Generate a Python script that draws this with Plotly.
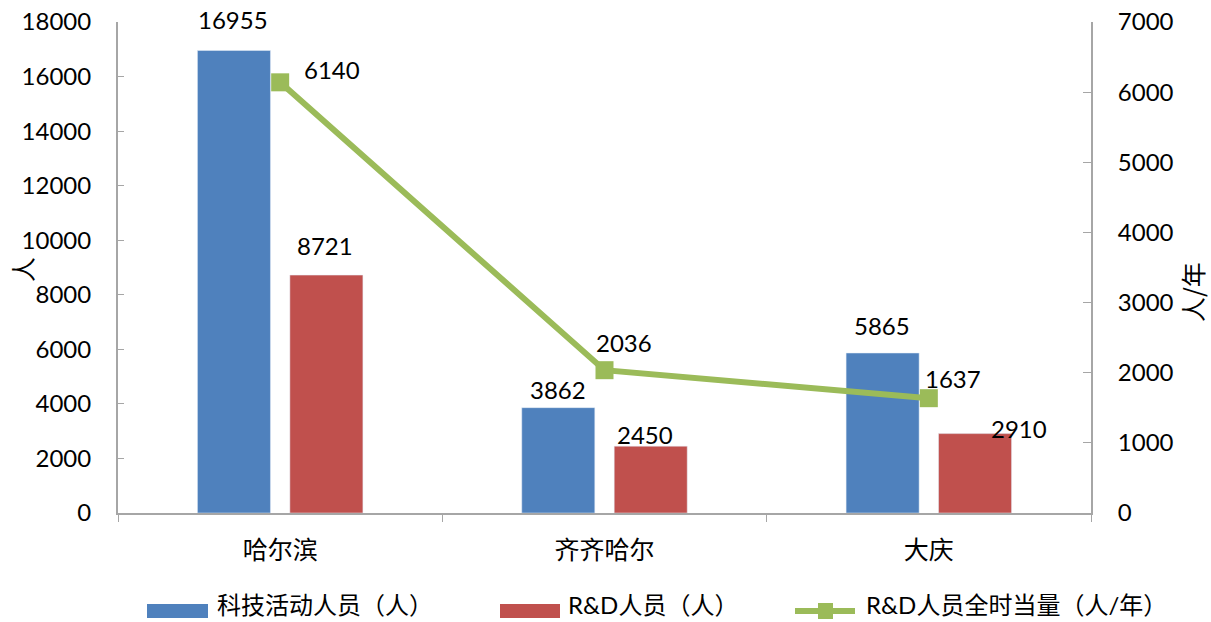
import plotly.graph_objects as go

# ---- data ----
cities = ["哈尔滨", "齐齐哈尔", "大庆"]
sci_staff = [16955, 3862, 5865]          # 科技活动人员（人）
rd_staff = [8721, 2450, 2910]            # R&D人员（人）
rd_fte = [6140, 2036, 1637]              # R&D人员全时当量（人/年）

name_sci = "科技活动人员（人）"
name_rd = "R&D人员（人）"
name_fte = "R&D人员全时当量（人/年）"

BLUE = "#4f81bd"
RED = "#c0504d"
GREEN = "#9bbb59"
AXIS = "#a6a6a6"
FONT = "Lato, Noto Sans CJK SC, sans-serif"
CJK = "Noto Sans CJK SC, sans-serif"

W, H = 1211, 622
L, R, T, B = 118, 120, 22, 109
PW, PH = W - L - R, H - T - B


def px_x(p):
    return (p - L) / PW


def px_y(p):
    return (H - B - p) / PH


fig = go.Figure()
fig.add_trace(go.Bar(x=cities, y=sci_staff, name=name_sci, marker_color=BLUE,
                     showlegend=False, offsetgroup="a"))
fig.add_trace(go.Bar(x=cities, y=rd_staff, name=name_rd, marker_color=RED,
                     showlegend=False, offsetgroup="b"))
fig.add_trace(go.Scatter(x=cities, y=rd_fte, name=name_fte, yaxis="y2",
                         mode="lines+markers",
                         line=dict(color=GREEN, width=6),
                         marker=dict(symbol="square", size=18, color=GREEN),
                         showlegend=False))

# value labels (pixel offsets from each mark)
sci_shift = [(-47, 31), (-47, 18), (-47, 28)]
rd_shift = [(45, 30), (40, 12), (90, 5)]
fte_shift = [(52, 13), (19, 28), (24, 20)]

NUM = dict(size=24, color="black", family=FONT)
ann = []
for c, v, (dx, dy) in zip(cities, sci_staff, sci_shift):
    ann.append(dict(x=c, y=v, xref="x", yref="y", text=str(v), showarrow=False,
                    xanchor="center", yanchor="middle", xshift=dx, yshift=dy, font=NUM))
for c, v, (dx, dy) in zip(cities, rd_staff, rd_shift):
    ann.append(dict(x=c, y=v, xref="x", yref="y", text=str(v), showarrow=False,
                    xanchor="center", yanchor="middle", xshift=dx, yshift=dy, font=NUM))
for c, v, (dx, dy) in zip(cities, rd_fte, fte_shift):
    ann.append(dict(x=c, y=v, xref="x", yref="y2", text=str(v), showarrow=False,
                    xanchor="center", yanchor="middle", xshift=dx, yshift=dy, font=NUM))

# axis titles
ann.append(dict(x=px_x(22), y=px_y(270), xref="paper", yref="paper", text="人",
                xanchor="center", yanchor="middle",
                textangle=-90, showarrow=False, font=dict(size=25, family=CJK, color="black")))
ann.append(dict(x=px_x(1192), y=px_y(292), xref="paper", yref="paper", text="人/年",
                xanchor="center", yanchor="middle",
                textangle=-90, showarrow=False, font=dict(size=25, family=CJK, color="black")))

# legend
shapes = []
ly = 611
shapes.append(dict(type="rect", xref="paper", yref="paper",
                   x0=px_x(147), x1=px_x(208), y0=px_y(618), y1=px_y(604),
                   fillcolor=BLUE, line=dict(width=0)))
shapes.append(dict(type="rect", xref="paper", yref="paper",
                   x0=px_x(500), x1=px_x(560), y0=px_y(618), y1=px_y(604),
                   fillcolor=RED, line=dict(width=0)))
shapes.append(dict(type="line", xref="paper", yref="paper",
                   x0=px_x(795), x1=px_x(855), y0=px_y(ly), y1=px_y(ly),
                   line=dict(color=GREEN, width=6)))
shapes.append(dict(type="rect", xref="paper", yref="paper",
                   x0=px_x(818), x1=px_x(833), y0=px_y(ly + 8), y1=px_y(ly - 8),
                   fillcolor=GREEN, line=dict(width=0)))
for xl, txt in [(215, name_sci), (566, name_rd), (864, name_fte)]:
    ann.append(dict(x=px_x(xl), y=px_y(621), xref="paper", yref="paper", text=txt,
                    xanchor="left", yanchor="bottom", showarrow=False,
                    font=dict(size=24, family=FONT, color="black")))

fig.update_layout(
    width=W, height=H,
    margin=dict(l=L, r=R, t=T, b=B, pad=0, autoexpand=False),
    paper_bgcolor="white", plot_bgcolor="white",
    barmode="group", bargap=0.43, bargroupgap=0.21,
    showlegend=False,
    annotations=ann, shapes=shapes,
    font=dict(family=FONT, color="black"),
    xaxis=dict(type="category", showline=True, linecolor=AXIS, linewidth=2,
               ticks="outside", tickson="boundaries", ticklen=7, tickcolor=AXIS,
               tickfont=dict(size=25, family=CJK), ticklabelstandoff=14,
               showgrid=False, zeroline=False, automargin=False),
    yaxis=dict(range=[0, 18000], dtick=2000, tickformat="d", showline=True,
               linecolor=AXIS, linewidth=2,
               ticks="inside", ticklen=6, tickcolor=AXIS, showgrid=False, zeroline=False,
               tickfont=dict(size=24, family=FONT), ticklabelstandoff=20, automargin=False),
    yaxis2=dict(range=[0, 7000], dtick=1000, tickformat="d", overlaying="y", side="right",
                showline=True, linecolor=AXIS, linewidth=2,
                ticks="inside", ticklen=8, tickcolor=AXIS, showgrid=False, zeroline=False,
                tickfont=dict(size=24, family=FONT), ticklabelstandoff=20, automargin=False),
)

fig.write_html("out.html")
